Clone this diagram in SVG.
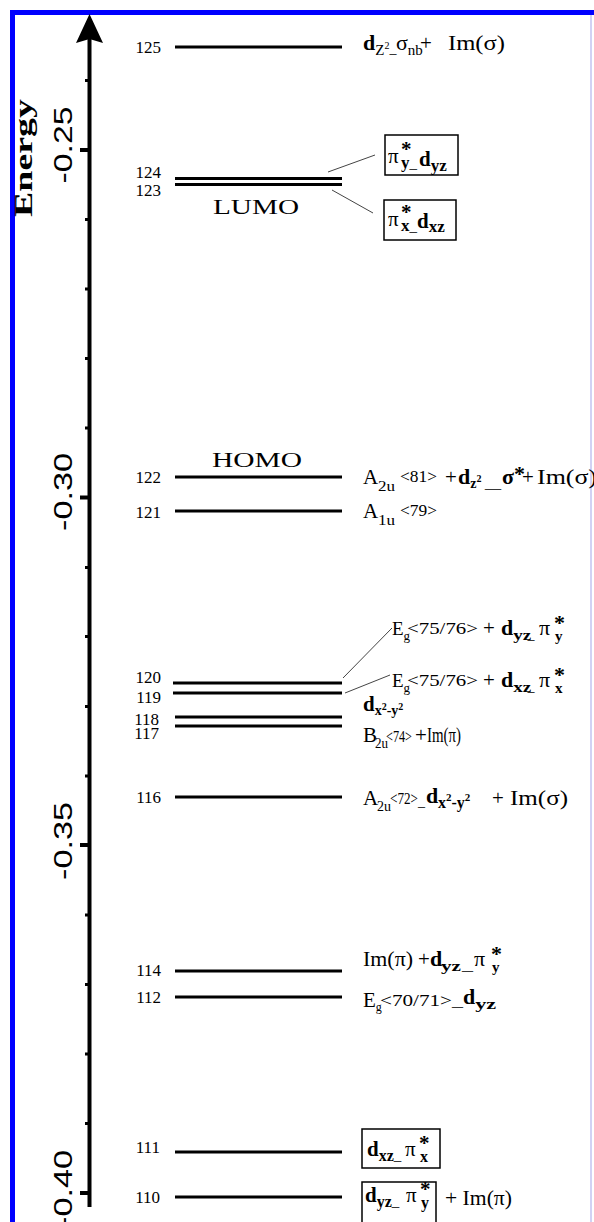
<svg xmlns="http://www.w3.org/2000/svg" width="594" height="1222" viewBox="0 0 594 1222">
<style>
.lv{stroke:#000;stroke-width:3;fill:none}
.tk{stroke:#000;stroke-width:4}
.mt{fill:#000}
.ld{stroke:#444;stroke-width:1;fill:none}
.bx{fill:none;stroke:#000;stroke-width:1.5}
.num{font-family:"Liberation Serif",serif;font-size:17px;text-anchor:end;fill:#000}
.ax{font-family:"Liberation Sans",Arial,sans-serif;font-size:26px;text-anchor:middle;fill:#000}
.t{font-family:"Liberation Serif",serif;font-size:21px;fill:#000}
.b{font-weight:bold}
</style>
<rect x="0" y="0" width="594" height="1222" fill="#fff"/>
<g id="frame">
<line x1="12.5" y1="10" x2="12.5" y2="1222" stroke="#0000ff" stroke-width="5"/>
<line x1="10" y1="12.5" x2="594" y2="12.5" stroke="#0000ff" stroke-width="5"/>
<line x1="591" y1="15" x2="591" y2="1222" stroke="#d2d2f4" stroke-width="2"/>
</g>
<g id="axis">
<line x1="89.5" y1="36" x2="89.5" y2="1207" stroke="#000" stroke-width="4"/>
<polygon points="89.5,14 103,43 89.5,39 76,43" fill="#000"/>
<line class="tk" x1="80" y1="150" x2="89" y2="150"/>
<line class="tk" x1="80" y1="497.5" x2="89" y2="497.5"/>
<line class="tk" x1="80" y1="845" x2="89" y2="845"/>
<line class="tk" x1="80" y1="1193" x2="89" y2="1193"/>
<rect class="mt" x="85" y="79" width="4" height="3"/>
<rect class="mt" x="85" y="218" width="4" height="3"/>
<rect class="mt" x="85" y="287.5" width="4" height="3"/>
<rect class="mt" x="85" y="357" width="4" height="3"/>
<rect class="mt" x="85" y="426.5" width="4" height="3"/>
<rect class="mt" x="85" y="566" width="4" height="3"/>
<rect class="mt" x="85" y="635" width="4" height="3"/>
<rect class="mt" x="85" y="705" width="4" height="3"/>
<rect class="mt" x="85" y="774.5" width="4" height="3"/>
<rect class="mt" x="85" y="913.5" width="4" height="3"/>
<rect class="mt" x="85" y="983" width="4" height="3"/>
<rect class="mt" x="85" y="1052.5" width="4" height="3"/>
<rect class="mt" x="85" y="1122" width="4" height="3"/>
<text class="ax" transform="translate(72,145) rotate(-90)" textLength="77" lengthAdjust="spacingAndGlyphs">-0.25</text>
<text class="ax" transform="translate(72,492) rotate(-90)" textLength="78" lengthAdjust="spacingAndGlyphs">-0.30</text>
<text class="ax" transform="translate(72,841) rotate(-90)" textLength="78" lengthAdjust="spacingAndGlyphs">-0.35</text>
<text class="ax" transform="translate(72,1189) rotate(-90)" textLength="78" lengthAdjust="spacingAndGlyphs">-0.40</text>
<text transform="translate(32,158) rotate(-90)" font-family="Liberation Serif" font-weight="bold" font-size="25" text-anchor="middle" textLength="118" lengthAdjust="spacingAndGlyphs">Energy</text>
</g>
<g id="levels">
<line class="lv" x1="175" y1="47" x2="342" y2="47"/>
<line class="lv" x1="175" y1="178.5" x2="342" y2="178.5" stroke-width="2.5"/>
<line class="lv" x1="175" y1="184.5" x2="342" y2="184.5" stroke-width="2.5"/>
<line class="lv" x1="175" y1="477" x2="342" y2="477"/>
<line class="lv" x1="175" y1="511" x2="342" y2="511"/>
<line class="lv" x1="173" y1="683" x2="342" y2="683"/>
<line class="lv" x1="173" y1="693" x2="342" y2="693"/>
<line class="lv" x1="175" y1="717" x2="342" y2="717"/>
<line class="lv" x1="175" y1="726" x2="342" y2="726"/>
<line class="lv" x1="175" y1="797" x2="342" y2="797"/>
<line class="lv" x1="175" y1="971" x2="342" y2="971"/>
<line class="lv" x1="175" y1="997" x2="342" y2="997"/>
<line class="lv" x1="175" y1="1152" x2="342" y2="1152"/>
<line class="lv" x1="175" y1="1197" x2="342" y2="1197"/>
</g>
<g id="numbers">
<text class="num" x="161" y="53">125</text>
<text class="num" x="161" y="178">124</text>
<text class="num" x="161" y="196">123</text>
<text class="num" x="161" y="483">122</text>
<text class="num" x="161" y="518">121</text>
<text class="num" x="161" y="683">120</text>
<text class="num" x="161" y="703">119</text>
<text class="num" x="159" y="725">118</text>
<text class="num" x="159" y="739">117</text>
<text class="num" x="161" y="803">116</text>
<text class="num" x="161" y="976">114</text>
<text class="num" x="161" y="1003">112</text>
<text class="num" x="160" y="1153">111</text>
<text class="num" x="160" y="1203">110</text>
</g>
<g id="homo-lumo">
<text class="t" x="213" y="214" font-size="25" textLength="86" lengthAdjust="spacingAndGlyphs">LUMO</text>
<text class="t" x="212" y="467" font-size="25" textLength="90" lengthAdjust="spacingAndGlyphs">HOMO</text>
</g>
<g id="connectors">
<line class="ld" x1="328" y1="172" x2="375" y2="155"/>
<line class="ld" x1="332" y1="190" x2="373" y2="213"/>
<line class="ld" x1="343" y1="678" x2="392" y2="628"/>
<line class="ld" x1="345" y1="693" x2="390" y2="675"/>
</g>
<g id="label125">
<text class="t" x="363" y="50"><tspan class="b" font-size="22">d</tspan><tspan font-size="15" y="55">Z</tspan><tspan font-size="10" y="49">2</tspan><tspan font-size="14" y="53">_</tspan><tspan font-size="22" x="396" y="50">σ</tspan><tspan font-size="15" y="55">nb</tspan><tspan x="420" y="50">+</tspan><tspan x="448" font-size="22" textLength="57" lengthAdjust="spacingAndGlyphs">Im(σ)</tspan></text>
</g>
<g id="label124">
<rect class="bx" x="385" y="135" width="73" height="40"/>
<text class="t" x="388" y="163" font-size="24">π<tspan class="b" x="401" y="156">*</tspan><tspan class="b" font-size="17" x="401" y="168">y</tspan><tspan font-size="15" y="168">_</tspan><tspan class="b" x="419" y="166">d</tspan><tspan class="b" font-size="17" y="171">yz</tspan></text>
</g>
<g id="label123">
<rect class="bx" x="384" y="200" width="72" height="40"/>
<text class="t" x="388" y="226" font-size="24">π<tspan class="b" x="401" y="219">*</tspan><tspan class="b" font-size="17" x="401" y="231">x</tspan><tspan font-size="15" y="231">_</tspan><tspan class="b" x="417" y="228">d</tspan><tspan class="b" font-size="17" y="232">xz</tspan></text>
</g>
<g id="label122">
<text class="t" x="363" y="484">A<tspan font-size="15" x="378" y="491" textLength="17" lengthAdjust="spacingAndGlyphs">2u</tspan><tspan font-size="16" x="400" y="482" textLength="37" lengthAdjust="spacingAndGlyphs">&lt;81&gt;</tspan><tspan x="445" y="484">+</tspan><tspan class="b" x="458" font-size="22">d</tspan><tspan class="b" font-size="14" y="488">z</tspan><tspan class="b" font-size="10" y="482">2</tspan><tspan font-size="14" x="485" y="488" textLength="16" lengthAdjust="spacingAndGlyphs">_</tspan><tspan class="b" x="502" y="484" font-size="22">σ</tspan><tspan class="b" font-size="22" y="481">*</tspan><tspan x="522" y="484">+</tspan><tspan x="537" font-size="22" textLength="60" lengthAdjust="spacingAndGlyphs">Im(σ)</tspan></text>
</g>
<g id="label121">
<text class="t" x="363" y="518">A<tspan font-size="15" x="378" y="525" textLength="17" lengthAdjust="spacingAndGlyphs">1u</tspan><tspan font-size="16" x="400" y="516" textLength="37" lengthAdjust="spacingAndGlyphs">&lt;79&gt;</tspan></text>
</g>
<g id="label120">
<text class="t" x="392" y="635"><tspan font-size="19">E</tspan><tspan font-size="13" y="640">g</tspan><tspan font-size="17" x="407" y="634" textLength="71" lengthAdjust="spacingAndGlyphs">&lt;75/76&gt;</tspan><tspan x="483" y="635">+</tspan><tspan class="b" x="501" font-size="22">d</tspan><tspan class="b" font-size="15" y="640" textLength="18" lengthAdjust="spacingAndGlyphs">yz</tspan><tspan font-size="14" y="639">_</tspan><tspan x="539" y="635" font-size="22">π</tspan><tspan class="b" font-size="22" x="554" y="630">*</tspan><tspan class="b" font-size="15" x="555" y="641">y</tspan></text>
</g>
<g id="label119">
<text class="t" x="392" y="687"><tspan font-size="19">E</tspan><tspan font-size="13" y="692">g</tspan><tspan font-size="17" x="407" y="686" textLength="71" lengthAdjust="spacingAndGlyphs">&lt;75/76&gt;</tspan><tspan x="483" y="687">+</tspan><tspan class="b" x="501" font-size="22">d</tspan><tspan class="b" font-size="15" y="692" textLength="18" lengthAdjust="spacingAndGlyphs">xz</tspan><tspan font-size="14" y="691">_</tspan><tspan x="539" y="687" font-size="22">π</tspan><tspan class="b" font-size="22" x="554" y="682">*</tspan><tspan class="b" font-size="15" x="555" y="693">x</tspan></text>
</g>
<g id="label118">
<text class="t b" x="363" y="711" font-size="19">d<tspan font-size="14" y="715">x</tspan><tspan font-size="10" y="710">2</tspan><tspan font-size="14" y="715">-y</tspan><tspan font-size="10" y="710">2</tspan></text>
</g>
<g id="label117">
<text class="t" x="363" y="742" font-size="19">B<tspan font-size="14" x="375" y="748" textLength="13" lengthAdjust="spacingAndGlyphs">2u</tspan><tspan font-size="16" x="386" y="742" textLength="26" lengthAdjust="spacingAndGlyphs">&lt;74&gt;</tspan><tspan x="415" y="742">+</tspan><tspan x="427" font-size="20" textLength="34" lengthAdjust="spacingAndGlyphs">Im(π)</tspan></text>
</g>
<g id="label116">
<text class="t" x="363" y="805" font-size="20">A<tspan font-size="14" x="377" y="811" textLength="14" lengthAdjust="spacingAndGlyphs">2u</tspan><tspan font-size="16" x="390" y="804" textLength="28" lengthAdjust="spacingAndGlyphs">&lt;72&gt;</tspan><tspan font-size="14" x="418" y="806">_</tspan><tspan class="b" font-size="22" x="426" y="803">d</tspan><tspan class="b" font-size="16" x="438" y="808">x</tspan><tspan class="b" font-size="11" y="801">2</tspan><tspan class="b" font-size="16" y="808">-y</tspan><tspan class="b" font-size="11" y="801">2</tspan><tspan x="492" y="805">+</tspan><tspan x="510" font-size="22" textLength="58" lengthAdjust="spacingAndGlyphs">Im(σ)</tspan></text>
</g>
<g id="label114">
<text class="t" x="363" y="966" font-size="21"><tspan textLength="50" lengthAdjust="spacingAndGlyphs">Im(π)</tspan><tspan x="418" y="966">+</tspan><tspan class="b" x="430" font-size="22">d</tspan><tspan class="b" font-size="15" x="441" y="971" textLength="20" lengthAdjust="spacingAndGlyphs">yz</tspan><tspan font-size="14" x="462" y="970" textLength="11" lengthAdjust="spacingAndGlyphs">_</tspan><tspan x="474" y="966" font-size="22">π</tspan><tspan class="b" font-size="22" x="491" y="961">*</tspan><tspan class="b" font-size="15" x="492" y="972">y</tspan></text>
</g>
<g id="label112">
<text class="t" x="363" y="1007" font-size="17">E<tspan font-size="12" y="1011">g</tspan><tspan font-size="16" x="380" y="1006" textLength="72" lengthAdjust="spacingAndGlyphs">&lt;70/71&gt;</tspan><tspan font-size="14" x="452" y="1006" textLength="11" lengthAdjust="spacingAndGlyphs">_</tspan><tspan class="b" x="463" y="1004" font-size="22">d</tspan><tspan class="b" font-size="15" y="1009" textLength="21" lengthAdjust="spacingAndGlyphs">yz</tspan></text>
</g>
<g id="label111">
<rect class="bx" x="362" y="1129" width="78" height="39"/>
<text class="t" x="367" y="1156" font-size="24"><tspan class="b">d</tspan><tspan class="b" font-size="16" y="1161">xz</tspan><tspan font-size="15" y="1160">_</tspan><tspan x="405" y="1156">π</tspan><tspan class="b" x="419" y="1150">*</tspan><tspan class="b" font-size="16" x="420" y="1162">x</tspan></text>
</g>
<g id="label110">
<rect class="bx" x="362" y="1182" width="74" height="45"/>
<text class="t" x="365" y="1202" font-size="24"><tspan class="b">d</tspan><tspan class="b" font-size="16" y="1207">yz</tspan><tspan font-size="15" y="1206">_</tspan><tspan x="406" y="1202">π</tspan><tspan class="b" x="420" y="1196">*</tspan><tspan class="b" font-size="16" x="421" y="1208">y</tspan></text>
<text class="t" x="445" y="1205" font-size="21" textLength="67" lengthAdjust="spacingAndGlyphs">+ Im(π)</text>
</g>
</svg>
